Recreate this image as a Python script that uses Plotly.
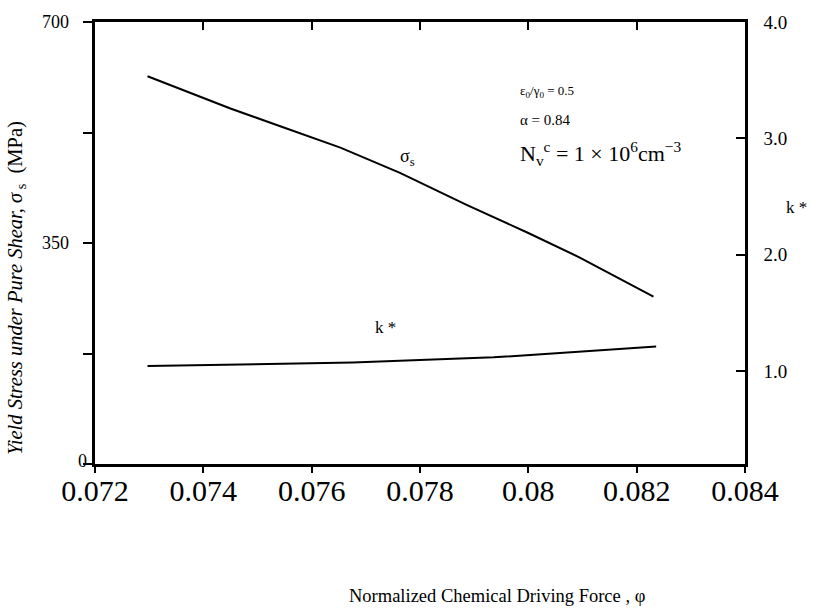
import plotly.graph_objects as go

# ---- data ----
phi_sigma = [0.07297, 0.07450, 0.07542, 0.07653, 0.07763, 0.07887, 0.07997, 0.08095, 0.08231]
sigma_s = [614, 563, 535, 501, 461, 410, 367, 327, 265]

phi_k = [0.07297, 0.07676, 0.07936, 0.08236]
k_star = [1.043, 1.072, 1.117, 1.210]

x_ticks = [0.072, 0.074, 0.076, 0.078, 0.080, 0.082, 0.084]
x_ticktext = ["0.072", "0.074", "0.076", "0.078", "0.08", "0.082", "0.084"]
y_ticks = [0, 175, 350, 525, 700]
y_label_vals = [0, 350, 700]
y_label_text = ["0", "350", "700"]
k_ticks = [1.0, 2.0, 3.0, 4.0]
k_ticktext = ["1.0", "2.0", "3.0", "4.0"]

SERIF = "Liberation Serif, Times New Roman, serif"

fig = go.Figure()
fig.add_trace(go.Scatter(x=phi_sigma, y=sigma_s, mode="lines",
                         line=dict(color="black", width=2), xaxis="x", yaxis="y",
                         showlegend=False, hoverinfo="skip"))
fig.add_trace(go.Scatter(x=phi_k, y=k_star, mode="lines",
                         line=dict(color="black", width=2), xaxis="x", yaxis="y2",
                         showlegend=False, hoverinfo="skip"))
# invisible trace so the top (mirror) axis is drawn
fig.add_trace(go.Scatter(x=[x_ticks[0]], y=[y_ticks[0]], xaxis="x2", yaxis="y", mode="markers",
                         marker=dict(opacity=0), showlegend=False, hoverinfo="skip"))

axis_common = dict(showgrid=False, zeroline=False, showline=True, linecolor="black",
                   linewidth=2.5, tickcolor="black", tickwidth=2)

fig.update_layout(
    width=816, height=611,
    margin=dict(l=95, r=71, t=18, b=147),
    plot_bgcolor="white", paper_bgcolor="white",
    font=dict(family=SERIF, color="black"),
    xaxis=dict(range=[0.072, 0.084], tickvals=x_ticks, ticktext=x_ticktext,
               ticks="outside", ticklen=6, ticklabelstandoff=-8,
               tickfont=dict(size=30, family=SERIF), **axis_common),
    xaxis2=dict(range=[0.072, 0.084], tickvals=x_ticks, overlaying="x", side="top",
                ticks="inside", ticklen=8, showticklabels=False, matches="x",
                **axis_common),
    yaxis=dict(range=[0, 700], tickvals=y_ticks, ticks="outside", ticklen=9,
               showticklabels=False, **axis_common),
    yaxis2=dict(range=[0.2, 4.0], tickvals=k_ticks, ticktext=k_ticktext, overlaying="y",
                side="right", ticks="inside", ticklen=9, ticklabelstandoff=12,
                tickfont=dict(size=19, family=SERIF), **axis_common),
)

ann = []
# left tick labels
for v, t in zip(y_label_vals, y_label_text):
    ann.append(dict(x=0, xref="paper", y=v, yref="y", text=t, showarrow=False,
                    xanchor="right", yanchor="middle",
                    xshift=-6 if t == "0" else -24,
                    yshift=3 if t == "0" else 0,
                    font=dict(size=18, family=SERIF)))
# axis titles
ann.append(dict(x=-0.1215, xref="paper", y=0.398, yref="paper", xanchor="center",
                yanchor="middle",
                text="<i>Yield Stress under Pure Shear, σ</i><sub> s</sub>  (MPa)",
                textangle=-90, showarrow=False, font=dict(size=20.5, family=SERIF)))
ann.append(dict(x=(497 - 95) / 650, xref="paper", y=-0.326, yref="paper", showarrow=False,
                xanchor="center",
                text="Normalized Chemical Driving Force , φ",
                font=dict(size=18.5, family=SERIF)))
ann.append(dict(x=1.06, xref="paper", y=0.58, yref="paper", text="k *", showarrow=False,
                xanchor="left", font=dict(size=17, family=SERIF)))
# curve labels
ann.append(dict(x=0.07776, xref="x", y=486, yref="y", text="σ<sub>s</sub>", showarrow=False,
                font=dict(size=18, family=SERIF)))
ann.append(dict(x=0.07736, xref="x", y=1.376, yref="y2", text="k *", showarrow=False,
                font=dict(size=17, family=SERIF)))
# parameter block
ann.append(dict(x=0.65, xref="paper", y=0.867, yref="paper", xanchor="left",
                text="ε<sub>0</sub>/γ<sub>0</sub> = 0.5", showarrow=False,
                font=dict(size=13, family=SERIF)))
ann.append(dict(x=0.65, xref="paper", y=0.80, yref="paper", xanchor="left",
                text="α = 0.84", showarrow=False, font=dict(size=15, family=SERIF)))
ann.append(dict(x=0.65, xref="paper", y=0.742, yref="paper", xanchor="left",
                text="N<sub>v</sub><sup>c</sup> = 1 × 10<sup>6</sup>cm<sup>−3</sup>",
                showarrow=False, font=dict(size=22, family=SERIF)))
fig.update_layout(annotations=ann)

fig.write_html("out.html")
